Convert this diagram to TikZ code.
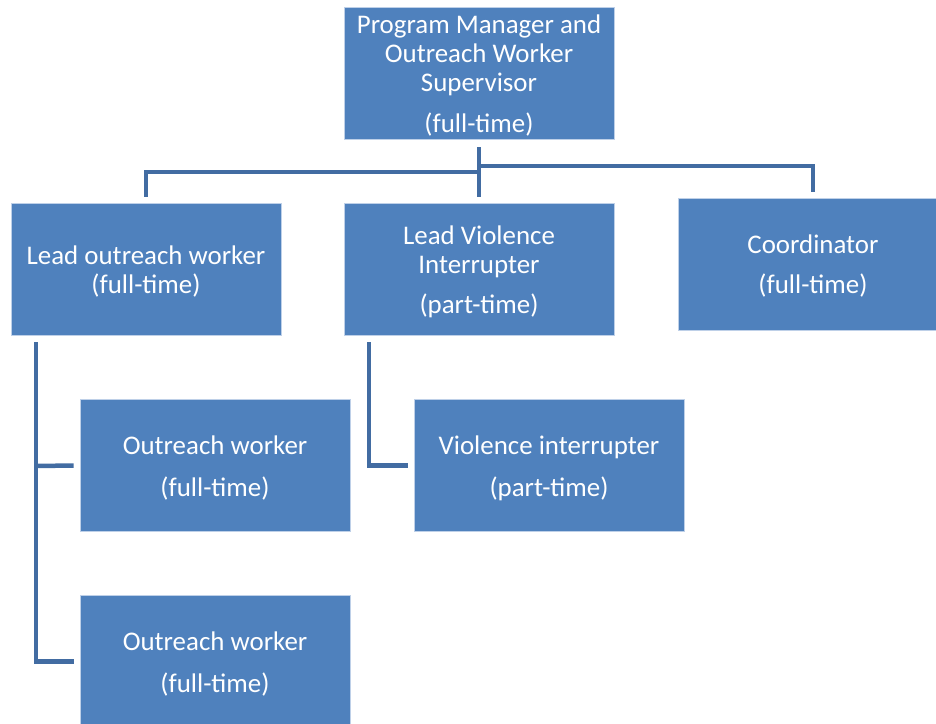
\documentclass[tikz,border=0pt]{standalone}
\usepackage{fontspec}
\setmainfont{Carlito}
\definecolor{boxfill}{RGB}{79,129,189}
\definecolor{boxedge}{RGB}{190,208,232}
\definecolor{linkcol}{RGB}{66,108,162}
\tikzset{
  orgbox/.style={rectangle, fill=boxfill, draw=boxedge, line width=0.8pt,
    minimum width=270pt, minimum height=132pt, inner sep=0pt},
  orgtext/.style={text=white, align=center, inner sep=0pt, yshift=-2.5pt,
    font=\fontsize{26.9}{29}\selectfont},
  conn/.style={draw=linkcol, line width=4.5pt}
}
\begin{document}
\begin{tikzpicture}[x=1pt,y=-1pt]
\useasboundingbox (0,0) rectangle (936,723);
\clip (0,0) rectangle (936,723);
\node[orgbox, label={[orgtext]center:{Program Manager and\\Outreach Worker\\Supervisor\\[12pt](full-time)}}] (top) at (479,73) {};
\node[orgbox, label={[orgtext]center:{Lead outreach worker\\(full-time)}}] (lo) at (146,269) {};
\node[orgbox, label={[orgtext]center:{Lead Violence\\Interrupter\\[11pt](part-time)}}] (lv) at (479,269) {};
\node[orgbox, label={[orgtext]center:{Coordinator\\[11pt](full-time)}}] (co) at (813,264) {};
\node[orgbox, label={[orgtext]center:{Outreach worker\\[13pt](full-time)}}] (ow1) at (215,465.5) {};
\node[orgbox, label={[orgtext]center:{Outreach worker\\[13pt](full-time)}}] (ow2) at (215,661.5) {};
\node[orgbox, label={[orgtext]center:{Violence interrupter\\[13pt](part-time)}}] (vi) at (549,465.5) {};
% top-level connectors
\coordinate (jl) at (479,172);
\coordinate (jr) at (479,166);
\draw[conn] ([yshift=-8pt]top.south) -- ([yshift=6pt]lv.north);
\draw[conn] (jl) -| ([yshift=6pt]lo.north);
\draw[conn] (jr) -| ([yshift=6pt]co.north);
% lead outreach children
\coordinate (lot) at (36,342);
\draw[conn] (lot) |- ([xshift=-6pt]ow2.west);
\draw[conn] (36,466) -- ([xshift=-6pt]ow1.west);
% lead violence child
\coordinate (lvt) at (369,342);
\draw[conn] (lvt) |- ([xshift=-6pt]vi.west);
\end{tikzpicture}
\end{document}
